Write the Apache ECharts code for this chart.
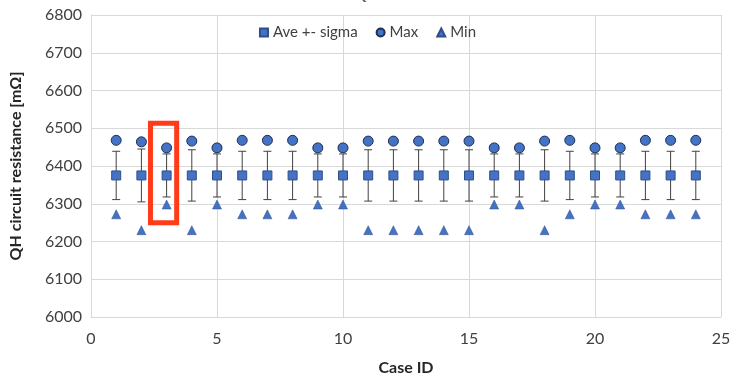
<!DOCTYPE html>
<html>
<head>
  <meta charset="utf-8">
  <script src="https://cdn.jsdelivr.net/npm/echarts@6/dist/echarts.min.js"></script>
  <style>
    html, body { margin: 0; padding: 0; background: #fff; }
    #chart { width: 735px; height: 381px; }
  </style>
</head>
<body>
  <div id="chart"></div>
  <script>
    // case ids
    const caseIds = [1, 2, 3, 4, 5, 6, 7, 8, 9, 10, 11, 12, 13, 14, 15, 16, 17, 18, 19, 20, 21, 22, 23, 24]
    // average resistance
    const aveVals = [6375, 6375, 6375, 6375, 6375, 6375, 6375, 6375, 6375, 6375, 6375, 6375,
      6375, 6375, 6375, 6375, 6375, 6375, 6375, 6375, 6375, 6375, 6375, 6375]
    // sigma
    const sigmaVals = [64, 70, 57, 68, 57, 64, 64, 64, 57, 57, 68, 68,
      68, 68, 68, 57, 57, 68, 64, 57, 57, 64, 64, 64]
    const maxVals = [6468, 6464, 6448, 6466, 6448, 6468, 6468, 6468, 6448, 6448, 6466, 6466,
      6466, 6466, 6466, 6448, 6448, 6466, 6468, 6448, 6448, 6468, 6468, 6468]
    const minVals = [6272, 6230, 6298, 6230, 6298, 6272, 6272, 6272, 6298, 6298, 6230, 6230,
      6230, 6230, 6230, 6298, 6298, 6230, 6272, 6298, 6298, 6272, 6272, 6272]
    // highlighted case box (x range, y range)
    const boxX = [2.36, 3.40]
    const boxY = [6250, 6513]

    const font = 'Lato, "Open Sans", sans-serif'
    const blue = '#4472c4'
    const edge = '#2f4f8a'

    let chart = echarts.init(document.getElementById('chart'))

    let aveData = caseIds.map((c, i) => [c, aveVals[i]])
    let errData = caseIds.map((c, i) => [c, aveVals[i] - sigmaVals[i], aveVals[i] + sigmaVals[i]])
    let maxData = caseIds.map((c, i) => [c, maxVals[i]])
    let minData = caseIds.map((c, i) => [c, minVals[i]])

    let option = {
      animation: false,
      title: {
        text: 'MQXFB03',
        left: 335,
        top: -17,
        textStyle: { fontFamily: font, fontSize: 15, fontWeight: 'bold', color: '#595959' },
      },
      legend: {
        top: 20,
        left: 'center',
        itemWidth: 8,
        itemHeight: 8,
        itemGap: 18,
        textStyle: { fontFamily: font, fontSize: 15, color: '#404040' },
        data: ['Ave +- sigma', 'Max', 'Min'],
      },
      grid: { left: 91, right: 14, top: 15, bottom: 60 },
      xAxis: {
        type: 'value',
        min: 0,
        max: 25,
        interval: 5,
        name: 'Case ID',
        nameLocation: 'middle',
        nameGap: 43,
        nameTextStyle: { fontFamily: font, fontSize: 16, fontWeight: 'bold', color: '#262626' },
        axisLine: { show: true, lineStyle: { color: '#d9d9d9' } },
        axisTick: { show: false },
        axisLabel: { fontFamily: font, fontSize: 16, color: '#404040', margin: 14 },
        splitLine: { show: true, lineStyle: { color: '#d9d9d9' } },
      },
      yAxis: {
        type: 'value',
        min: 6000,
        max: 6800,
        interval: 100,
        name: 'QH circuit resistance [mΩ]',
        nameLocation: 'middle',
        nameGap: 67,
        nameTextStyle: { fontFamily: font, fontSize: 16, fontWeight: 'bold', color: '#262626' },
        axisLine: { show: true, lineStyle: { color: '#d9d9d9' } },
        axisTick: { show: false },
        axisLabel: { fontFamily: font, fontSize: 16, color: '#404040', margin: 9, formatter: (v) => String(v) },
        splitLine: { show: true, lineStyle: { color: '#d9d9d9' } },
      },
      series: [
        {
          name: 'sigma',
          type: 'custom',
          z: 2,
          silent: true,
          renderItem: function (params, api) {
            let x = api.value(0)
            let lo = api.coord([x, api.value(1)])
            let hi = api.coord([x, api.value(2)])
            let cap = 4
            let style = { stroke: '#404040', lineWidth: 1 }
            return {
              type: 'group',
              children: [
                { type: 'line', shape: { x1: lo[0], y1: lo[1], x2: hi[0], y2: hi[1] }, style },
                { type: 'line', shape: { x1: lo[0] - cap, y1: lo[1], x2: lo[0] + cap, y2: lo[1] }, style },
                { type: 'line', shape: { x1: hi[0] - cap, y1: hi[1], x2: hi[0] + cap, y2: hi[1] }, style },
              ],
            }
          },
          encode: { x: 0, y: [1, 2] },
          data: errData,
        },
        {
          name: 'Ave +- sigma',
          type: 'scatter',
          z: 3,
          symbol: 'rect',
          symbolSize: 9,
          itemStyle: { color: blue, borderColor: edge, borderWidth: 1, opacity: 1 },
          data: aveData,
        },
        {
          name: 'Max',
          type: 'scatter',
          z: 3,
          symbol: 'circle',
          symbolSize: 10,
          itemStyle: { color: blue, borderColor: '#1f2f4f', borderWidth: 1, opacity: 1 },
          data: maxData,
        },
        {
          name: 'Min',
          type: 'scatter',
          z: 3,
          symbol: 'triangle',
          symbolSize: 9,
          itemStyle: { color: blue, borderColor: edge, borderWidth: 0.5, opacity: 1 },
          data: minData,
          markArea: {
            silent: true,
            itemStyle: { color: 'rgba(0,0,0,0)', borderColor: '#ff3b1a', borderWidth: 5, borderRadius: 3 },
            data: [[{ xAxis: boxX[0], yAxis: boxY[0] }, { xAxis: boxX[1], yAxis: boxY[1] }]],
          },
        },
      ],
    }
    chart.setOption(option)
  </script>
</body>
</html>
